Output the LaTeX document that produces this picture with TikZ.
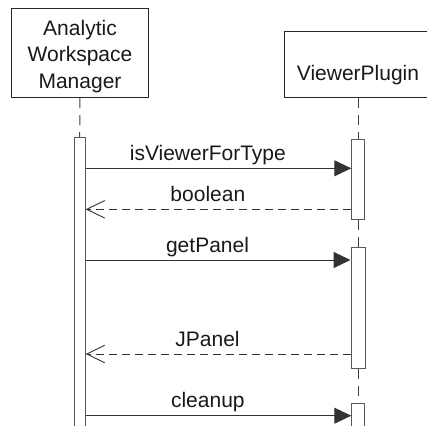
\documentclass[tikz,border=0pt]{standalone}
\usepackage{fontspec}
\setmainfont{Liberation Sans}
\usetikzlibrary{arrows.meta}
\begin{document}
\begin{tikzpicture}[x=1pt,y=-1pt,line cap=butt,
	head/.style={draw=black!85,line width=1pt,fill=white,inner sep=0pt,text=black!90},
	act/.style={draw=black!65,line width=1pt,fill=white,inner sep=0pt,anchor=north},
	life/.style={draw=black!75,line width=1pt,dash pattern=on 10pt off 7pt},
	call/.style={draw=black!80,line width=1pt,-{Triangle[length=17pt,width=16pt]}},
	reply/.style={draw=black!80,line width=1pt,dash pattern=on 8pt off 5pt,-{Straight Barb[length=18pt,width=17.5pt,line width=0.9pt]}},
	msg/.style={anchor=base,yshift=8pt,pos=0.46,inner sep=0pt,text=black!90}]
	\useasboundingbox (0,0) rectangle (427,425);
	\clip (0,0) rectangle (427,425);
	\fontsize{21}{26.5}\selectfont
	% heads
	\node[head,minimum width=136.5pt,minimum height=89.5pt,align=center] (awm) at (80,53) {\rule{0pt}{22pt}Analytic\\Workspace\\Manager};
	\node[head,anchor=base,minimum width=148pt,text height=49pt,text depth=16.5pt] (vp) at (358,81) {ViewerPlugin};
	% activation bars
	\node[act,minimum width=11pt,minimum height=300pt] (awmact) at (79.7,137) {};
	\node[act,minimum width=12.5pt,minimum height=80pt] (vpa) at (358,138.5) {};
	\node[act,minimum width=14pt,minimum height=120.5pt] (vpb) at (358,247.3) {};
	\node[act,minimum width=12.5pt,minimum height=40pt] (vpc) at (358,403.3) {};
	% lifelines
	\draw[life] (awm.south) -- (awmact.north);
	\draw[life] (vp.south) -- (vpa.north);
	\draw[life] (vpa.south) -- (vpb.north);
	\draw[life] (vpb.south) -- (vpc.north);
	% messages
	\draw[call] (awmact.east |- 0,168.3) -- (vpa.west |- 0,168.3) node[msg] {isViewerForType};
	\draw[reply] (vpa.west |- 0,209.3) -- (awmact.east |- 0,209.3) node[msg,pos=0.54] {boolean};
	\draw[call] (awmact.east |- 0,260) -- (vpb.west |- 0,260) node[msg] {getPanel};
	\draw[reply] (vpb.west |- 0,354) -- (awmact.east |- 0,354) node[msg,pos=0.54] {JPanel};
	\draw[call] (awmact.east |- 0,415.7) -- (vpc.west |- 0,415.7) node[msg] {cleanup};
\end{tikzpicture}
\end{document}
